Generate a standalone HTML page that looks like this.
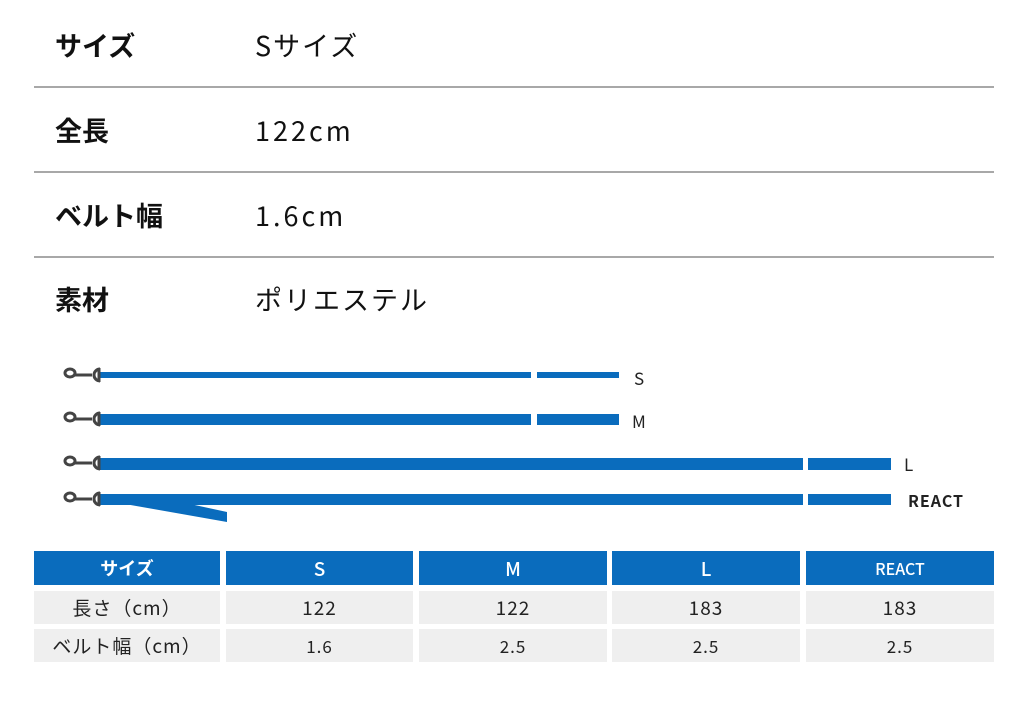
<!DOCTYPE html>
<html><head><meta charset="utf-8"><style>
body{margin:0;width:1028px;height:706px;background:#fff;overflow:hidden;position:relative;font-family:"Noto Sans CJK JP","Liberation Sans",sans-serif;color:#111}
.t{position:absolute;font-size:27px;line-height:30px;white-space:nowrap}
.b{font-weight:bold}
.v{letter-spacing:2px}
.hr{position:absolute;left:34px;width:960px;height:2px;background:#a8a8a8}
.c{position:absolute;display:flex;align-items:center;justify-content:center;font-size:19px;white-space:nowrap}
.h{background:#0a6cbd;color:#fff;font-weight:500;top:551px;height:34px;font-size:19px}
.r1{background:#efefef;top:591px;height:33px;color:#222;letter-spacing:1px}
.r2{background:#efefef;top:629px;height:33px;color:#222;font-size:17px;letter-spacing:1px}
</style></head><body>
<div class="t b" style="left:55px;top:30px">サイズ</div><div class="t v" style="left:255px;top:30px">Sサイズ</div>
<div class="hr" style="top:86px"></div>
<div class="t b" style="left:55px;top:115px">全長</div><div class="t v" style="left:255px;top:115px;letter-spacing:3px">122cm</div>
<div class="hr" style="top:171px"></div>
<div class="t b" style="left:55px;top:200px">ベルト幅</div><div class="t v" style="left:255px;top:200px;letter-spacing:3px">1.6cm</div>
<div class="hr" style="top:256px"></div>
<div class="t b" style="left:55px;top:284px">素材</div><div class="t v" style="left:255px;top:284px">ポリエステル</div>

<svg style="position:absolute;left:0;top:0" width="1028" height="706">
<g fill="#0a6cbd">
<rect x="98" y="372" width="433" height="6"/><rect x="537" y="372" width="82" height="6"/>
<rect x="98" y="414" width="433" height="11"/><rect x="537" y="414" width="82" height="11"/>
<rect x="98" y="458" width="705" height="12"/><rect x="808" y="458" width="83" height="12"/>
<rect x="98" y="494" width="705" height="11"/><rect x="808" y="494" width="83" height="11"/>
<polygon points="125,504 190,504 227,512 227,522"/>
</g>
<g fill="none" stroke="#444" stroke-width="3">
<g transform="translate(0,375)"><ellipse cx="70" cy="-2" rx="5" ry="4"/><path d="M75 0 H92"/><path d="M100 -6 A6 6 0 1 0 100 6"/><path d="M99 -7 V7"/></g>
<g transform="translate(0,419)"><ellipse cx="70" cy="-2" rx="5" ry="4"/><path d="M75 0 H92"/><path d="M100 -6 A6 6 0 1 0 100 6"/><path d="M99 -7 V7"/></g>
<g transform="translate(0,463)"><ellipse cx="70" cy="-2" rx="5" ry="4"/><path d="M75 0 H92"/><path d="M100 -6 A6 6 0 1 0 100 6"/><path d="M99 -7 V7"/></g>
<g transform="translate(0,499)"><ellipse cx="70" cy="-2" rx="5" ry="4"/><path d="M75 0 H92"/><path d="M100 -6 A6 6 0 1 0 100 6"/><path d="M99 -7 V7"/></g>
</g>
<g font-family="Noto Sans CJK JP, Liberation Sans, sans-serif" fill="#222">
<text x="634" y="385" font-size="17">S</text>
<text x="632" y="428" font-size="17">M</text>
<text x="904" y="471" font-size="17">L</text>
<text x="908" y="507" font-size="16" font-weight="bold" letter-spacing="1">REACT</text>
</g>
</svg>

<div class="c h" style="left:34px;width:186px;font-weight:bold;font-size:18px">サイズ</div>
<div class="c h" style="left:226px;width:187px">S</div>
<div class="c h" style="left:419px;width:188px">M</div>
<div class="c h" style="left:612px;width:188px">L</div>
<div class="c h" style="left:806px;width:188px;font-size:16px">REACT</div>
<div class="c r1" style="left:34px;width:186px">長さ（cm）</div>
<div class="c r1" style="left:226px;width:187px">122</div>
<div class="c r1" style="left:419px;width:188px">122</div>
<div class="c r1" style="left:612px;width:188px">183</div>
<div class="c r1" style="left:806px;width:188px">183</div>
<div class="c r2" style="left:34px;width:186px;font-size:19px">ベルト幅（cm）</div>
<div class="c r2" style="left:226px;width:187px">1.6</div>
<div class="c r2" style="left:419px;width:188px">2.5</div>
<div class="c r2" style="left:612px;width:188px">2.5</div>
<div class="c r2" style="left:806px;width:188px">2.5</div>
</body></html>
